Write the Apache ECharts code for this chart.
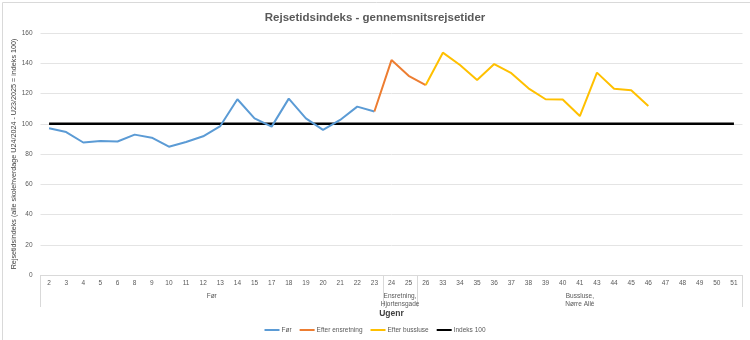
<!DOCTYPE html>
<html>
<head>
<meta charset="utf-8">
<script src="https://cdn.jsdelivr.net/npm/echarts@6/dist/echarts.min.js"></script>
<style>
html,body{margin:0;padding:0;background:#fff;}
#chart{width:750px;height:340px;}
</style>
</head>
<body>
<div id="chart"></div>
<script>
// ---- data ----
const weeks = ['2','3','4','5','6','8','9','10','11','12','13','14','15','17','18','19','20','21','22','23',
  '24','25','26','33','34','35','36','37','38','39','40','41','43','44','45','46','47','48','49','50','51'];
const groupNames = ['Før', 'Ensretning,\nHjortensgade', 'Bussluse,\nNørre Allé'];
const groupSizes = [20, 2, 19];

const forStart = '2';
const forValues = [97.0, 94.5, 87.6, 88.6, 88.3, 92.8, 90.8, 84.8, 87.9, 91.7, 98.5, 116.2, 103.6, 98.1, 116.6, 103.6, 95.9, 102.5, 111.3, 108.1];
const ensretningStart = '23';
const ensretningValues = [108.1, 142.1, 131.7, 125.6];
const busslusStart = '26';
const busslusValues = [125.6, 147.0, 138.8, 128.9, 139.5, 133.4, 123.4, 116.2, 116.0, 105.1, 133.8, 123.1, 122.2, 111.7];
const indexValue = 100;

const yTicks = [0, 20, 40, 60, 80, 100, 120, 140, 160];

// ---- build ----
function place(startWeek, vals) {
  const arr = weeks.map(() => null);
  const s = weeks.indexOf(startWeek);
  vals.forEach((v, i) => { arr[s + i] = v; });
  return arr;
}
// second (group) axis: half-category points
const halfCount = weeks.length * 2 + 1;
const groupAxisData = new Array(halfCount).fill('');
const boundaries = [0];
let acc = 0;
groupSizes.forEach((n, i) => {
  groupAxisData[2 * acc + n] = groupNames[i];
  acc += n;
  boundaries.push(acc * 2);
});

const font = "'Liberation Sans', Arial, sans-serif";
const chart = echarts.init(document.getElementById('chart'), null, {renderer: 'canvas'});
chart.setOption({
  animation: false,
  textStyle: {fontFamily: font},
  title: {
    text: 'Rejsetidsindeks - gennemsnitsrejsetider',
    left: 'center', top: 12, padding: 0,
    textStyle: {fontFamily: font, fontSize: 11.5, fontWeight: 'bold', color: '#595959'}
  },
  graphic: [{
    type: 'rect', left: 0, top: 0,
    shape: {x: 0.5, y: 0.5, width: 749, height: 339},
    style: {fill: 'none', stroke: '#d9d9d9', lineWidth: 1}, silent: true, z: -1
  }],
  legend: {
    left: 'center', top: 326.5, padding: 0,
    icon: 'rect', itemWidth: 15, itemHeight: 2, itemGap: 8,
    textStyle: {fontFamily: font, fontSize: 6.5, color: '#595959', padding: [0, 0, 0, -3]},
    data: ['Før', 'Efter ensretning', 'Efter bussluse', 'Indeks 100']
  },
  grid: {left: 40.5, right: 7.5, top: 33, bottom: 65, containLabel: false, outerBoundsMode: 'none'},
  xAxis: [{
    type: 'category', data: weeks, boundaryGap: true,
    axisLine: {show: true, lineStyle: {color: '#d9d9d9', width: 1}},
    axisTick: {show: false},
    axisLabel: {interval: 0, fontSize: 6.5, color: '#595959', margin: 5, fontFamily: font},
    splitLine: {show: false}
  }, {
    type: 'category', data: groupAxisData, boundaryGap: false, position: 'bottom',
    axisLine: {show: false},
    axisTick: {show: true, length: 32, interval: (i) => boundaries.indexOf(i) >= 0,
      lineStyle: {color: '#d9d9d9', width: 1}},
    axisLabel: {interval: 0, fontSize: 6.5, color: '#595959', margin: 17, lineHeight: 8, fontFamily: font, align: 'center'},
    name: 'Ugenr', nameLocation: 'middle', nameGap: 34.5, nameMoveOverlap: false,
    nameTextStyle: {fontFamily: font, fontSize: 8.5, fontWeight: 'bold', color: '#404040'},
    splitLine: {show: false}
  }],
  yAxis: {
    type: 'value', min: yTicks[0], max: yTicks[yTicks.length - 1], interval: yTicks[1] - yTicks[0],
    axisLine: {show: false}, axisTick: {show: false},
    axisLabel: {fontSize: 6.5, color: '#595959', margin: 8, fontFamily: font},
    splitLine: {lineStyle: {color: '#e4e4e4', width: 1}},
    name: 'Rejsetidsindeks (alle skolehverdage U24/2024 - U23/2025 = indeks 100)',
    nameLocation: 'middle', nameGap: 23, nameRotate: 90, nameMoveOverlap: false,
    nameTextStyle: {fontFamily: font, fontSize: 7.2, color: '#404040'}
  },
  series: [
    {name: 'Før', type: 'line', data: place(forStart, forValues), showSymbol: false, symbol: 'none',
      lineStyle: {color: '#5B9BD5', width: 2}, itemStyle: {color: '#5B9BD5'}, z: 3},
    {name: 'Efter ensretning', type: 'line', data: place(ensretningStart, ensretningValues), showSymbol: false, symbol: 'none',
      lineStyle: {color: '#ED7D31', width: 2}, itemStyle: {color: '#ED7D31'}, z: 3},
    {name: 'Efter bussluse', type: 'line', data: place(busslusStart, busslusValues), showSymbol: false, symbol: 'none',
      lineStyle: {color: '#FFC000', width: 2}, itemStyle: {color: '#FFC000'}, z: 3},
    {name: 'Indeks 100', type: 'line', data: weeks.map(() => indexValue), showSymbol: false, symbol: 'none',
      lineStyle: {color: '#000000', width: 2.5}, itemStyle: {color: '#000000'}, z: 2}
  ]
});
</script>
</body>
</html>
